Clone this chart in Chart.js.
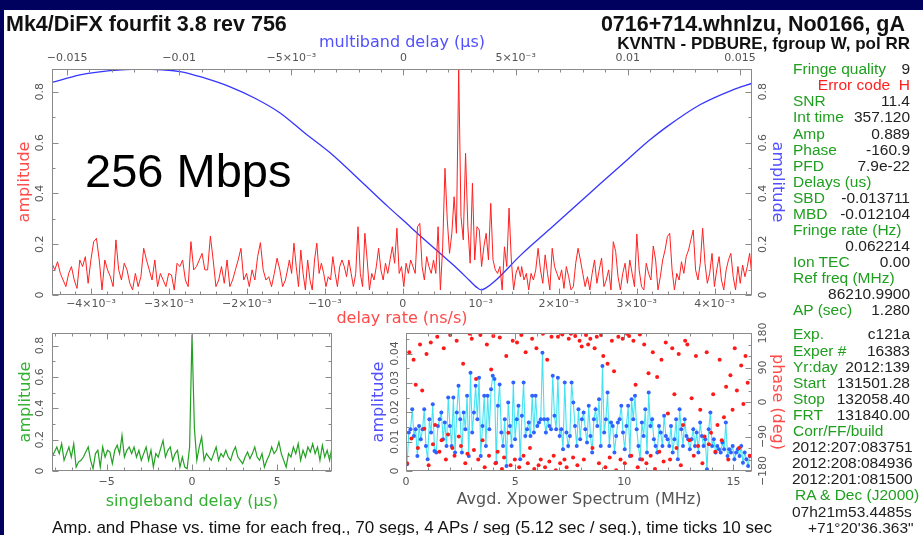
<!DOCTYPE html>
<html>
<head>
<meta charset="utf-8">
<script src="https://cdn.jsdelivr.net/npm/chart.js@4.4.0/dist/chart.umd.min.js"></script>
<style>
  body { margin: 0; background: #00005e; }
  #page { position: relative; width: 923px; height: 535px; overflow: hidden; background: #00005e; }
  #sheet { position: absolute; left: 4px; top: 10px; right: 0; bottom: 0; background: #fff; }
  canvas { position: absolute; }
  .t { position: absolute; white-space: nowrap; font-family: "Liberation Sans", Arial, sans-serif; }
  .hd { font-weight: bold; color: #111; }
  .lab { left: 793px; color: #1f9f1f; font-size: 15.5px; line-height: 15.5px; }
  .val { right: 13px; color: #222; font-size: 15.5px; line-height: 15.5px; }
  .blk { left: 792px; color: #222; font-size: 15.5px; line-height: 15.5px; }
</style>
</head>
<body>
<div id="page">
  <div id="sheet"></div>
  <canvas id="topChart" width="800" height="300" style="left:0;top:30px;width:800px;height:300px"></canvas>
  <canvas id="sbdChart" width="345" height="200" style="left:0;top:320px;width:345px;height:200px"></canvas>
  <canvas id="specChart" width="455" height="200" style="left:345px;top:320px;width:455px;height:200px"></canvas>

  <div class="t hd" style="left:6px;top:13.5px;font-size:21.5px;line-height:21.5px">Mk4/DiFX fourfit 3.8 rev 756</div>
  <div class="t hd" style="right:18px;top:13.5px;font-size:21.5px;line-height:21.5px">0716+714.whnlzu, No0166, gA</div>
  <div class="t hd" style="right:13px;top:34.9px;font-size:17px;line-height:17px">KVNTN - PDBURE, fgroup W, pol RR</div>
  <div class="t" style="left:85px;top:147px;font-size:47px;line-height:47px;color:#000">256 Mbps</div>

  <div class="t lab" style="top:61.2px">Fringe quality</div><div class="t val" style="top:61.2px">9</div>
  <div class="t val" style="top:77.3px;color:#ff2020">Error code&nbsp;&nbsp;H</div>
  <div class="t lab" style="top:93.3px">SNR</div><div class="t val" style="top:93.3px">11.4</div>
  <div class="t lab" style="top:109.4px">Int time</div><div class="t val" style="top:109.4px">357.120</div>
  <div class="t lab" style="top:125.5px">Amp</div><div class="t val" style="top:125.5px">0.889</div>
  <div class="t lab" style="top:141.6px">Phase</div><div class="t val" style="top:141.6px">-160.9</div>
  <div class="t lab" style="top:157.6px">PFD</div><div class="t val" style="top:157.6px">7.9e-22</div>
  <div class="t lab" style="top:173.7px">Delays (us)</div>
  <div class="t lab" style="top:189.8px">SBD</div><div class="t val" style="top:189.8px">-0.013711</div>
  <div class="t lab" style="top:205.8px">MBD</div><div class="t val" style="top:205.8px">-0.012104</div>
  <div class="t lab" style="top:221.9px">Fringe rate (Hz)</div>
  <div class="t val" style="top:238px">0.062214</div>
  <div class="t lab" style="top:254px">Ion TEC</div><div class="t val" style="top:254px">0.00</div>
  <div class="t lab" style="top:270.1px">Ref freq (MHz)</div>
  <div class="t val" style="top:286.2px">86210.9900</div>
  <div class="t lab" style="top:302.3px">AP (sec)</div><div class="t val" style="top:302.3px">1.280</div>

  <div class="t lab" style="top:326.4px">Exp.</div><div class="t val" style="top:326.4px">c121a</div>
  <div class="t lab" style="top:342.5px">Exper #</div><div class="t val" style="top:342.5px">16383</div>
  <div class="t lab" style="top:358.6px">Yr:day</div><div class="t val" style="top:358.6px">2012:139</div>
  <div class="t lab" style="top:374.7px">Start</div><div class="t val" style="top:374.7px">131501.28</div>
  <div class="t lab" style="top:390.8px">Stop</div><div class="t val" style="top:390.8px">132058.40</div>
  <div class="t lab" style="top:406.9px">FRT</div><div class="t val" style="top:406.9px">131840.00</div>
  <div class="t lab" style="top:423px">Corr/FF/build</div>
  <div class="t blk" style="top:439.1px">2012:207:083751</div>
  <div class="t blk" style="top:455.2px">2012:208:084936</div>
  <div class="t blk" style="top:471.3px">2012:201:081500</div>
  <div class="t lab" style="top:487.4px;left:795px">RA &amp; Dec (J2000)</div>
  <div class="t blk" style="top:503.5px">07h21m53.4485s</div>
  <div class="t blk" style="top:519.6px;left:808px">+71°20'36.363"</div>

  <div class="t" style="left:52px;top:518.6px;font-size:17px;line-height:17px;color:#111">Amp. and Phase vs. time for each freq., 70 segs, 4 APs / seg (5.12 sec / seq.), time ticks 10 sec</div>
</div>

<script>
// ---------- values ----------
const mbdTickVals = [-0.015, -0.01, -0.005, 0, 0.005, 0.01, 0.015];
const mbdTickLabels = ['−0.015', '−0.01', '−5×10⁻³', '0', '5×10⁻³', '0.01', '0.015'];
const rateTickVals = [-0.004, -0.003, -0.002, -0.001, 0, 0.001, 0.002, 0.003, 0.004];
const rateTickLabels = ['−4×10⁻³', '−3×10⁻³', '−2×10⁻³', '−10⁻³', '0', '10⁻³', '2×10⁻³', '3×10⁻³', '4×10⁻³'];
const ampTickVals = [0, 0.2, 0.4, 0.6, 0.8];
const ampTickLabels = ['0', '0.2', '0.4', '0.6', '0.8'];
const sbdTickVals = [-5, 0, 5];
const sbdTickLabels = ['−5', '0', '5'];
const freqTickVals = [0, 5, 10, 15];
const freqTickLabels = ['0', '5', '10', '15'];
const specAmpTickVals = [0, 0.01, 0.02, 0.03, 0.04];
const specAmpTickLabels = ['0', '0.01', '0.02', '0.03', '0.04'];
const phaseTickVals = [-180, -90, 0, 90, 180];
const phaseTickLabels = ['−180', '−90', '0', '90', '180'];

// delay rate spectrum (red), three stretches of evenly spaced samples
const rateSegEdges = [[-0.0045, -0.00147], [-0.001455, 0.00151], [0.001525, 0.00448]];
const rateAmpA = [0.125,0.099,0.131,0.085,0.059,0.033,0.085,0.112,0.059,0.026,
  0.138,0.112,0.151,0.046,0.138,0.21,0.223,0.138,0.02,0.138,
  0.099,0.072,0.033,0.217,0.099,0.059,0.125,0.099,0.046,0.02,
  0.085,0.033,0.072,0.184,0.138,0.099,0.059,0.138,0.033,0.085,
  0.059,0.033,0.085,0.079,0.02,0.125,0.112,0.138,0.059,0.033,
  0.21,0.099,0.112,0.138,0.164,0.099,0.099,0.232,0.138,0.033,
  0.059,0.112,0.046,0.138,0.033,0.059,0.099,0.138,0.184,0.059,
  0.085,0.033,0.099,0.059,0.151,0.206,0.099,0.059,0.072,0.033,
  0.085,0.145,0.099,0.033,0.059,0.112];
const rateAmpB = [0.138,0.085,0.204,0.112,0.033,0.177,0.085,0.02,0.138,0.059,
  0.02,0.138,0.204,0.085,0.125,0.085,0.033,0.072,0.059,0.151,
  0.085,0.033,0.112,0.138,0.112,0.072,0.138,0.085,0.033,0.085,
  0.269,0.085,0.033,0.243,0.138,0.02,0.085,0.059,0.112,0.184,
  0.099,0.059,0.125,
  0.085,0.138,0.19,0.125,0.263,0.085,0.112,0.033,0.125,0.085,
  0.138,0.112,0.085,0.269,0.282,0.112,0.059,0.151,0.112,0.085,
  0.138,0.085,0.269,0.02,0.19,0.499,0.296,0.164,0.243,0.387,
  0.243,0.887,0.309,0.217,0.558,0.269,0.125,0.44,0.138,0.269,
  0.256,0.112,0.19,0.243,0.138,0.361,0.138,0.099,
  0.085,0.112,0.02,0.19,0.112,0.342,0.138,0.02,0.085,0.112,
  0.072];
const rateAmpC = [0.112,0.059,0.085,0.02,0.085,0.059,0.099,0.184,0.099,0.046,
  0.158,0.085,0.02,0.184,0.112,0.085,0.059,0.099,0.026,0.112,
  0.072,0.02,0.033,0.125,0.184,0.138,0.085,0.033,0.072,0.02,
  0.085,0.138,0.046,0.099,0.145,0.033,0.059,0.099,0.02,0.21,
  0.171,0.072,0.02,0.085,0.125,0.046,0.138,0.085,0.033,0.24,
  0.099,0.033,0.02,0.125,0.085,0.059,0.193,0.138,0.02,0.072,
  0.138,0.177,0.23,0.243,0.099,0.02,0.085,0.059,0.131,0.085,
  0.151,0.177,0.217,0.256,0.099,0.059,0.125,0.263,0.125,0.046,
  0.085,0.164,0.033,0.099,0.151,0.059,0.02,0.099,0.138,0.164,
  0.072,0.02,0.112,0.046,0.118,0.072,0.112,0.164,0.072];

// multiband delay curve (blue)
const mbdDelay = [-0.01567,-0.01442,-0.01308,-0.01175,-0.00996,-0.00885,-0.00773,-0.00662,-0.0055,-0.00439,
  -0.00327,-0.0018,-0.00069,0.00029,0.00078,0.00163,0.0023,0.00297,0.00323,0.00346,
  0.00368,0.00408,0.00524,0.00653,0.00787,0.00876,0.00997,0.01099,0.01175,0.01322,0.01469,0.01554];
const mbdAmp = [0.837,0.867,0.884,0.89,0.88,0.854,0.82,0.775,0.717,0.637,
  0.56,0.44,0.348,0.27,0.23,0.164,0.112,0.055,0.033,0.02,
  0.028,0.055,0.158,0.26,0.366,0.437,0.532,0.611,0.663,0.749,0.808,0.834];

// singleband delay (green), evenly spaced over sbdRange
const sbdRange = [-8.2, 8.2];
const sbdAmp = [0.089,0.121,0.153,0.111,0.174,0.068,0.111,0.153,0.089,0.174,
  0.025,0.057,0.068,0.089,0.121,0.153,0.068,0.015,0.111,0.132,
  0.025,0.153,0.089,0.132,0.121,0.047,0.132,0.164,0.111,0.227,
  0.089,0.132,0.153,0.111,0.153,0.089,0.132,0.068,0.111,0.153,
  0.068,0.132,0.025,0.111,0.089,0.143,0.195,0.089,0.132,0.153,
  0.068,0.111,0.132,0.025,0.089,0.025,0.015,0.153,
  0.87,
  0.27,0.068,0.153,0.216,0.068,0.111,0.089,0.068,0.111,0.153,
  0.068,0.111,0.089,0.132,0.089,0.068,0.121,0.153,0.089,0.068,
  0.047,0.089,0.121,0.079,0.111,0.153,0.089,0.068,0.111,0.025,
  0.068,0.1,0.153,0.111,0.132,0.185,0.111,0.068,0.025,0.111,
  0.089,0.153,0.111,0.174,0.068,0.132,0.089,0.153,0.121,0.174,
  0.111,0.153,0.068,0.164,0.089,0.132,0.068,0.153];

// averaged cross-power spectrum: amplitude (blue/cyan) and phase (red)
const specRange = [0.05, 15.75];
const specAmp = [0.0023,0.0131,0.0142,0.021,0.0119,0.0142,0.0051,0.0153,0.0108,0.0142,
  0.021,0.0085,0.004,0.0176,0.0131,0.0227,0.0068,0.0063,0.0153,0.0176,
  0.0199,0.0108,0.0165,0.0085,0.025,0.0153,0.0085,0.025,0.0063,0.0199,
  0.029,0.0176,0.0063,0.0199,0.0142,0.0256,0.0051,0.0335,0.0131,0.0199,
  0.029,0.0176,0.0318,0.0051,0.0153,0.0256,0.0085,0.0256,0.0142,0.0278,
  0.0324,0.0313,0.0028,0.0222,0.0295,0.0131,0.0085,0.0176,0.0017,0.0233,
  0.0153,0.0085,0.0301,0.0108,0.0176,0.0222,0.004,0.0188,0.0301,0.0119,
  0.0142,0.0165,0.0119,0.0256,0.0131,0.0256,0.0153,0.0165,0.0176,0.0403,
  0.0176,0.0131,0.0176,0.0153,0.0142,0.0324,0.0188,0.0142,0.0318,0.0119,
  0.0142,0.0074,0.0301,0.0131,0.0085,0.0119,0.0301,0.0233,0.0153,0.0085,
  0.021,0.0108,0.0176,0.0199,0.0142,0.0097,0.0222,0.0119,0.0063,0.0176,
  0.021,0.0153,0.0244,0.0085,0.0358,0.0131,0.0176,0.0267,0.0085,0.0165,
  0.0153,0.0063,0.0119,0.0165,0.0176,0.0222,0.0131,0.0074,0.0153,0.0222,
  0.0051,0.0244,0.0176,0.0256,0.0142,0.0085,0.004,0.0165,0.0119,0.021,
  0.0063,0.0267,0.0153,0.0176,0.0108,0.0085,0.0063,0.0153,0.0131,0.0085,
  0.0188,0.0119,0.0108,0.0085,0.0153,0.0063,0.0108,0.0176,0.004,0.021,
  0.0142,0.0085,0.0176,0.0119,0.0108,0.0074,0.0108,0.0142,0.0085,0.0131,
  0.0063,0.0165,0.0119,0.0085,0.0108,0.0006,0.0142,0.0199,0.0085,0.0108,
  0.0063,0.0085,0.0074,0.0063,0.0097,0.0074,0.0165,0.0051,0.0074,0.0063,
  0.0085,0.004,0.0063,0.0074,0.0051,0.0085,0.0028,0.0063,0.004,0.0017,
  0.0051];
const specPhase = [-160,130,-95,110,45,-120,150,30,-70,125,
  -165,155,-110,-60,170,-130,-100,140,-150,-85,
  175,-120,-140,160,-90,-115,100,-160,-135,178,
  165,-125,60,-150,175,-100,-170,150,-140,85,
  172,-160,-130,168,-175,-145,120,-80,-165,160,
  -150,155,-170,175,-140,130,-160,-120,165,-175,
  140,-165,-150,178,-170,110,-155,170,-140,-178,
  170,-160,176,-150,-170,165,178,-145,172,-165,
  160,145,-150,175,150,165,-120,140,170,-160,
  175,120,-170,100,-145,160,80,-178,170,-150,
  165,-160,178,172,-140,160,45,-170,176,-150,
  150,-160,75,-140,130,-175,65,-130,110,-155,
  155,-30,-150,140,20,-120,125,-165,-60,160,
  150,-100,10,-140,120,-115,-20,-160,-90,130,
  -110,-80,20,-130,-60,110,-100,-40,40,-150,
  70,-20,140,30,-120,95,-5,120,50,-140];

// ---------- helpers ----------
function spread(vals, lo, hi) {
  return vals.map((v, i) => ({ x: lo + i * (hi - lo) / (vals.length - 1), y: v }));
}
function labelFor(v, vals, labels) {
  const i = vals.findIndex(t => Math.abs(t - v) < 1e-9);
  return i < 0 ? '' : labels[i];
}
const tickFont = { family: 'DejaVu Sans', size: 11 };
const titleFont = { family: 'DejaVu Sans', size: 16 };

function axis(pos, min, max, step, vals, labels, size, pad, title) {
  const vertical = pos === 'left' || pos === 'right';
  return {
    type: 'linear', position: pos, min: min, max: max,
    grid: { display: false, drawTicks: false },
    border: { display: false },
    ticks: {
      display: !vertical, autoSkip: false,
      maxRotation: 0, minRotation: 0, padding: pad, font: tickFont, color: '#555',
      callback: v => labelFor(v, vals, labels)
    },
    // every minor step inside the range, so no tick near an edge gets dropped
    afterBuildTicks: s => {
      const list = [];
      for (let k = Math.ceil(min / step - 1e-6); k * step <= max + 1e-9; k++) {
        list.push({ value: +(k * step).toFixed(10) });
      }
      s.ticks = list;
    },
    title: title ? Object.assign({ display: true, font: titleFont }, title) : { display: false },
    afterFit: s => { if (vertical) s.width = size; else s.height = size; }
  };
}

// frame round the plot, inward tick marks, rotated y tick labels
function frameTicks(marks, yLabels) {
  return {
    id: 'frameTicks',
    afterDraw(chart) {
      const ctx = chart.ctx, a = chart.chartArea;
      const L = Math.round(a.left) + 0.5, R = Math.round(a.right) - 0.5;
      const T = Math.round(a.top) + 0.5, B = Math.round(a.bottom) - 0.5;
      ctx.save();
      ctx.strokeStyle = '#8a8a8a';
      ctx.lineWidth = 1;
      ctx.strokeRect(L, T, R - L, B - T);
      ctx.beginPath();
      marks.forEach(([id, side]) => {
        const s = chart.scales[id];
        s.ticks.forEach(t => {
          const p = Math.round(s.getPixelForValue(t.value)) + 0.5;
          const len = t.label ? 6 : 3;
          if (side === 'bottom') { ctx.moveTo(p, B); ctx.lineTo(p, B - len); }
          if (side === 'top') { ctx.moveTo(p, T); ctx.lineTo(p, T + len); }
          if (side === 'left') { ctx.moveTo(L, p); ctx.lineTo(L + len, p); }
          if (side === 'right') { ctx.moveTo(R, p); ctx.lineTo(R - len, p); }
        });
      });
      ctx.stroke();
      ctx.fillStyle = '#555';
      ctx.font = '11px "DejaVu Sans"';
      ctx.textAlign = 'center';
      ctx.textBaseline = 'middle';
      yLabels.forEach(([id, x]) => {
        const s = chart.scales[id];
        s.ticks.forEach(t => {
          if (!t.label) return;
          ctx.save();
          ctx.translate(x, s.getPixelForValue(t.value));
          ctx.rotate(-Math.PI / 2);
          ctx.fillText(t.label, 0, 0);
          ctx.restore();
        });
      });
      ctx.restore();
    }
  };
}

const base = {
  responsive: false,
  animation: false,
  layout: { padding: 0 },
  plugins: { legend: { display: false }, tooltip: { enabled: false } }
};

// ---------- top: delay rate / multiband delay ----------
const rateData = spread(rateAmpA, ...rateSegEdges[0])
  .concat(spread(rateAmpB, ...rateSegEdges[1]))
  .concat(spread(rateAmpC, ...rateSegEdges[2]));

new Chart(document.getElementById('topChart'), {
  type: 'line',
  data: {
    datasets: [
      { data: rateData, xAxisID: 'x', yAxisID: 'y', borderColor: '#ff2020', borderWidth: 1,
        pointRadius: 0, tension: 0 },
      { data: mbdDelay.map((d, i) => ({ x: d, y: mbdAmp[i] })), xAxisID: 'x2', yAxisID: 'y2',
        borderColor: '#3535ff', borderWidth: 1.3, pointRadius: 0, cubicInterpolationMode: 'monotone' }
    ]
  },
  options: Object.assign({}, base, {
    scales: {
      x: axis('bottom', -0.0045, 0.00448, 0.0002, rateTickVals, rateTickLabels, 35, 3,
        { text: 'delay rate (ns/s)', color: '#ff4a4a', padding: { top: 0, bottom: 2 } }),
      x2: axis('top', -0.01567, 0.01554, 0.001, mbdTickVals, mbdTickLabels, 39, 4,
        { text: 'multiband delay (μs)', color: '#5050ff', padding: { top: 3, bottom: 0 } }),
      y: axis('left', 0, 0.89, 0.1, ampTickVals, ampTickLabels, 52, 0,
        { text: 'amplitude', color: '#ff4a4a', padding: { top: 15, bottom: 0 } }),
      y2: axis('right', 0, 0.89, 0.1, ampTickVals, ampTickLabels, 48, 0,
        { text: 'amplitude', color: '#5050ff', padding: { top: 13, bottom: 0 } })
    }
  }),
  plugins: [frameTicks([['x', 'bottom'], ['x2', 'top'], ['y', 'left'], ['y2', 'right']],
                       [['y', 40], ['y2', 763]])]
});

// ---------- bottom left: singleband delay ----------
new Chart(document.getElementById('sbdChart'), {
  type: 'line',
  data: {
    datasets: [
      { data: spread(sbdAmp, ...sbdRange), borderColor: '#22a022', borderWidth: 1.2,
        pointRadius: 0, tension: 0 }
    ]
  },
  options: Object.assign({}, base, {
    layout: { padding: { top: 13, right: 13 } },
    scales: {
      x: axis('bottom', sbdRange[0], sbdRange[1], 1, sbdTickVals, sbdTickLabels, 49, 5,
        { text: 'singleband delay (μs)', color: '#33b033', padding: { top: 0, bottom: 9 } }),
      y: axis('left', 0, 0.88, 0.1, ampTickVals, ampTickLabels, 52, 0,
        { text: 'amplitude', color: '#33b033', padding: { top: 16, bottom: 0 } })
    }
  }),
  plugins: [frameTicks([['x', 'bottom'], ['x', 'top'], ['y', 'left'], ['y', 'right']], [['y', 40]])]
});

// ---------- bottom right: averaged cross-power spectrum ----------
new Chart(document.getElementById('specChart'), {
  type: 'line',
  data: {
    datasets: [
      { data: spread(specPhase, ...specRange), yAxisID: 'y2', showLine: false,
        pointRadius: 2, pointBorderWidth: 0, pointBackgroundColor: '#ff1a1a' },
      { data: spread(specAmp, ...specRange), yAxisID: 'y', borderColor: '#45e3f2', borderWidth: 1.1,
        pointRadius: 2, pointBorderWidth: 0, pointBackgroundColor: '#2f62ff', tension: 0 }
    ]
  },
  options: Object.assign({}, base, {
    layout: { padding: { top: 13 } },
    scales: {
      x: axis('bottom', 0, 15.85, 1, freqTickVals, freqTickLabels, 49, 5,
        { text: 'Avgd. Xpower Spectrum (MHz)', color: '#555', padding: { top: 0, bottom: 11 } }),
      y: axis('left', 0, 0.047, 0.005, specAmpTickVals, specAmpTickLabels, 61, 0,
        { text: 'amplitude', color: '#5050ff', padding: { top: 24, bottom: 0 } }),
      y2: axis('right', -180, 180, 30, phaseTickVals, phaseTickLabels, 48, 0,
        { text: 'phase (deg)', color: '#ff4a4a', padding: { top: 13, bottom: 0 } })
    }
  }),
  plugins: [frameTicks([['x', 'bottom'], ['x', 'top'], ['y', 'left'], ['y2', 'right']],
                       [['y', 50], ['y2', 418]])]
});
</script>
</body>
</html>
